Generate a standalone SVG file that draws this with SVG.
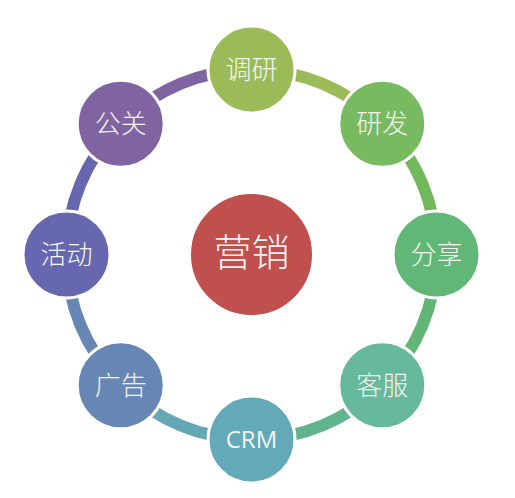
<svg xmlns="http://www.w3.org/2000/svg" width="515" height="498" viewBox="0 0 515 498">
  <style>
    .arc { fill: none; stroke-width: 12; }
    .node { stroke: #ffffff; stroke-width: 3; }
    .lbl { font-family: "Noto Sans CJK SC", "Noto Sans", sans-serif; font-weight: 300; font-size: 26px; fill: #f5f5f0; text-anchor: middle; }
    .lat { font-family: "Open Sans", "Noto Sans", sans-serif; font-size: 24px; fill: #f5f5f0; text-anchor: middle; }
    .big { font-family: "Noto Sans CJK SC", "Noto Sans", sans-serif; font-weight: 300; font-size: 38px; fill: #f7f2f0; text-anchor: middle; }
  </style>
  <rect width="515" height="498" fill="#ffffff"/>
  <g id="connectors">
    <path class="arc" stroke="#9BBB59" d="M289.96 73.55 A185 185 0 0 1 352.25 99.34"/>
    <path class="arc" stroke="#72B85C" d="M406.66 153.75 A185 185 0 0 1 432.45 216.04"/>
    <path class="arc" stroke="#62B574" d="M432.45 292.96 A185 185 0 0 1 406.66 355.25"/>
    <path class="arc" stroke="#60B48E" d="M352.25 409.66 A185 185 0 0 1 289.96 435.45"/>
    <path class="arc" stroke="#64A8B6" d="M213.04 435.45 A185 185 0 0 1 150.75 409.66"/>
    <path class="arc" stroke="#6786B3" d="M96.34 355.25 A185 185 0 0 1 70.55 292.96"/>
    <path class="arc" stroke="#6667AE" d="M70.55 216.04 A185 185 0 0 1 96.34 153.75"/>
    <path class="arc" stroke="#8064A2" d="M150.75 99.34 A185 185 0 0 1 213.04 73.55"/>
  </g>
  <g id="center">
    <circle class="node" cx="251.5" cy="254.5" r="62" fill="#C0504D"/>
    <text class="big" x="251.5" y="266">营销</text>
  </g>
  <g id="n-diaoyan">
    <circle class="node" cx="251.5" cy="69.5" r="43.5" fill="#9BBB59"/>
    <text class="lbl" x="251.5" y="79">调研</text>
  </g>
  <g id="n-yanfa">
    <circle class="node" cx="382.3" cy="123.7" r="43.5" fill="#77BA5F"/>
    <text class="lbl" x="382.3" y="133.2">研发</text>
  </g>
  <g id="n-fenxiang">
    <circle class="node" cx="436.5" cy="254.5" r="43.5" fill="#61B777"/>
    <text class="lbl" x="436.5" y="264">分享</text>
  </g>
  <g id="n-kefu">
    <circle class="node" cx="382.3" cy="385.3" r="43.5" fill="#66B99C"/>
    <text class="lbl" x="382.3" y="394.8">客服</text>
  </g>
  <g id="n-crm">
    <circle class="node" cx="251.5" cy="439.5" r="43.5" fill="#64A9B7"/>
    <text class="lat" x="251.5" y="448">CRM</text>
  </g>
  <g id="n-guanggao">
    <circle class="node" cx="120.7" cy="385.3" r="43.5" fill="#6886B4"/>
    <text class="lbl" x="120.7" y="394.8">广告</text>
  </g>
  <g id="n-huodong">
    <circle class="node" cx="66.5" cy="254.5" r="43.5" fill="#6667AE"/>
    <text class="lbl" x="66.5" y="264">活动</text>
  </g>
  <g id="n-gongguan">
    <circle class="node" cx="120.7" cy="123.7" r="43.5" fill="#8064A2"/>
    <text class="lbl" x="120.7" y="133.2">公关</text>
  </g>
</svg>
